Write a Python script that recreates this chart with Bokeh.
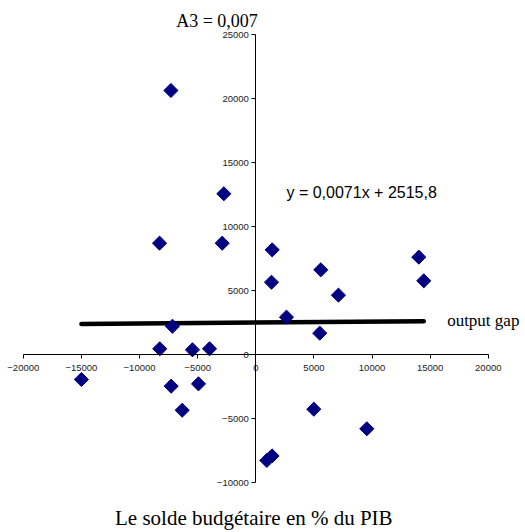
import math
from bokeh.plotting import figure
from bokeh.models import LinearAxis, SingleIntervalTicker, Label, Range1d
from bokeh.embed import file_html
from bokeh.resources import INLINE

# data (output gap vs budget balance)
output_gap = [-7300, -2750, -8280, -2890, 1410, 1350, 5590, 7110, 14020, 14450,
              2640, -7170, 5500, -8260, -5450, -3980, -15000, -7280, -4930, -6330,
              4990, 9550, 950, 1400]
solde = [20650, 12580, 8720, 8720, 8200, 5670, 6640, 4660, 7630, 5780,
         2940, 2230, 1690, 470, 390, 470, -1930, -2450, -2270, -4330,
         -4250, -5780, -8250, -7900]

slope = 0.0071
intercept = 2515.8
title_text = "A3 = 0,007"
equation_text = "y = 0,0071x + 2515,8"
series_label = "output gap"
axis_title = "Le solde budgétaire en % du PIB"

x_bounds = (-20000, 20000)
y_bounds = (-10000, 25000)

# the frame fills the whole figure; the axes are limited to their bounds
p = figure(width=525, height=532, output_backend="svg", toolbar_location=None,
           x_range=Range1d(-21961, 23200), y_range=Range1d(-13883, 27680),
           x_axis_location=None, y_axis_location=None,
           min_border_left=0, min_border_right=0, min_border_top=0, min_border_bottom=0,
           background_fill_color="white", border_fill_color="white")
p.outline_line_color = None
p.title.visible = False
p.grid.visible = False

def style_axis(ax, bounds):
    ax.bounds = bounds
    ax.ticker = SingleIntervalTicker(interval=5000, num_minor_ticks=0)
    ax.axis_line_color = "black"
    ax.axis_line_width = 1
    ax.major_tick_line_color = "black"
    ax.major_tick_out = 4
    ax.major_tick_in = 0
    ax.minor_tick_line_color = None
    ax.major_label_text_font = "Liberation Sans"
    ax.major_label_text_font_size = "9.5px"
    ax.major_label_text_color = "#222222"

xaxis = LinearAxis(fixed_location=0)
style_axis(xaxis, x_bounds)
xaxis.major_label_standoff = 6
yaxis = LinearAxis(fixed_location=0)
style_axis(yaxis, y_bounds)
yaxis.major_label_standoff = 3
p.add_layout(xaxis, "below")
p.add_layout(yaxis, "left")

# trend line over the data range
lx = [min(output_gap), max(output_gap)]
ly = [slope * v + intercept for v in lx]
p.line(lx, ly, line_color="black", line_width=4.5, line_cap="round")

p.scatter(output_gap, solde, marker="square", size=10, angle=math.pi / 4,
          fill_color="#000080", line_color="#000080", line_width=1)

p.add_layout(Label(x=-6850, y=26060, text=title_text, text_font="Liberation Serif",
                   text_font_size="18px", text_color="black", text_baseline="alphabetic"))
p.add_layout(Label(x=2640, y=12660, text=equation_text, text_font="Liberation Sans",
                   text_font_size="16px", text_color="black", text_baseline="alphabetic"))
p.add_layout(Label(x=16460, y=2680, text=series_label, text_font="Liberation Serif",
                   text_font_size="17px", text_color="black", text_baseline="alphabetic"))
p.add_layout(Label(x=-170, y=-12735, text=axis_title, text_font="Liberation Serif",
                   text_font_size="21px", text_color="black", text_baseline="alphabetic",
                   text_align="center"))

open("out.html", "w").write(file_html(p, INLINE))
